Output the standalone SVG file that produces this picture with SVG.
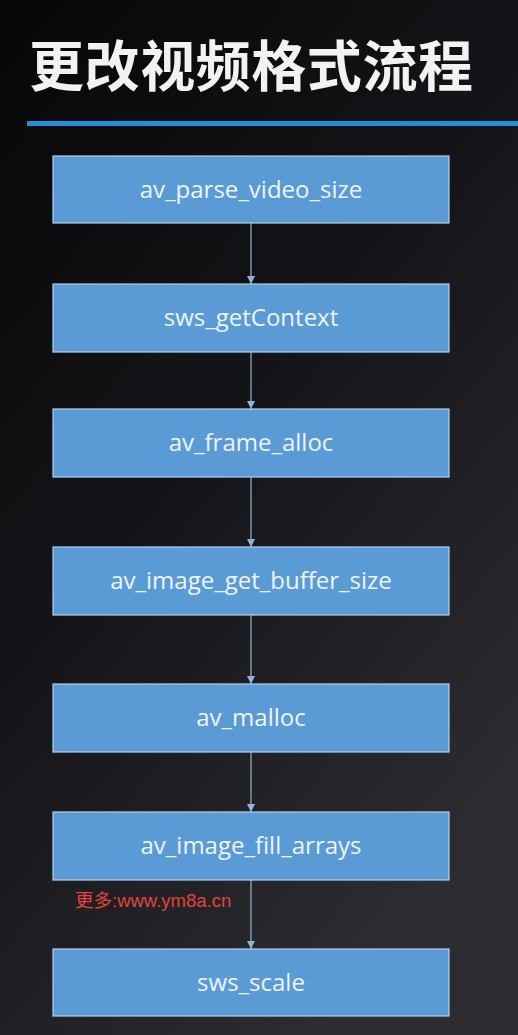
<svg xmlns="http://www.w3.org/2000/svg" width="518" height="1035" viewBox="0 0 518 1035">
<defs>
<linearGradient id="bg" x1="0" y1="0" x2="0.6" y2="1">
<stop offset="0" stop-color="#070709"/>
<stop offset="0.5" stop-color="#151519"/>
<stop offset="1" stop-color="#2c2c31"/>
</linearGradient>
<marker id="arr" viewBox="0 0 10 10" refX="10" refY="5" markerWidth="8" markerHeight="8" markerUnits="userSpaceOnUse" orient="auto">
<path d="M0,0 L10,5 L0,10 z" fill="#8fb4d8"/>
</marker>
<style>
.box{fill:#5b9bd5;stroke:#b4cfe9;stroke-width:1.2}
.lbl{font-family:"Open Sans","Noto Sans","DejaVu Sans",sans-serif;font-size:24px;fill:#eef4fb;text-anchor:middle}
.conn{stroke:#8fb4d8;stroke-width:1.2;fill:none}
</style>
</defs>
<rect x="0" y="0" width="518" height="1035" fill="url(#bg)"/>
<text x="29" y="86" font-family="'Noto Sans CJK SC',sans-serif" font-weight="bold" font-size="55" fill="#f2f2f2" textLength="444">更改视频格式流程</text>
<rect x="27" y="121" width="491" height="5" fill="#1f8fd8"/>
<g id="connectors">
<line class="conn" x1="251" y1="223" x2="251" y2="284" marker-end="url(#arr)"/>
<line class="conn" x1="251" y1="352" x2="251" y2="409" marker-end="url(#arr)"/>
<line class="conn" x1="251" y1="477" x2="251" y2="547" marker-end="url(#arr)"/>
<line class="conn" x1="251" y1="615" x2="251" y2="684" marker-end="url(#arr)"/>
<line class="conn" x1="251" y1="752" x2="251" y2="812" marker-end="url(#arr)"/>
<line class="conn" x1="251" y1="880" x2="251" y2="949" marker-end="url(#arr)"/>
</g>
<g id="n1"><rect class="box" x="53" y="156" width="396" height="67"/><text class="lbl" x="251" y="198">av_parse_video_size</text></g>
<g id="n2"><rect class="box" x="53" y="284" width="396" height="68"/><text class="lbl" x="251" y="326">sws_getContext</text></g>
<g id="n3"><rect class="box" x="53" y="409" width="396" height="68"/><text class="lbl" x="251" y="451">av_frame_alloc</text></g>
<g id="n4"><rect class="box" x="53" y="547" width="396" height="68"/><text class="lbl" x="251" y="589">av_image_get_buffer_size</text></g>
<g id="n5"><rect class="box" x="53" y="684" width="396" height="68"/><text class="lbl" x="251" y="726">av_malloc</text></g>
<g id="n6"><rect class="box" x="53" y="812" width="396" height="68"/><text class="lbl" x="251" y="854">av_image_fill_arrays</text></g>
<g id="n7"><rect class="box" x="53" y="949" width="396" height="67"/><text class="lbl" x="251" y="991">sws_scale</text></g>
<text x="75" y="907" font-family="'Liberation Sans','Noto Sans CJK SC',sans-serif" font-size="18.5" fill="#e4433b">更多:www.ym8a.cn</text>
</svg>
